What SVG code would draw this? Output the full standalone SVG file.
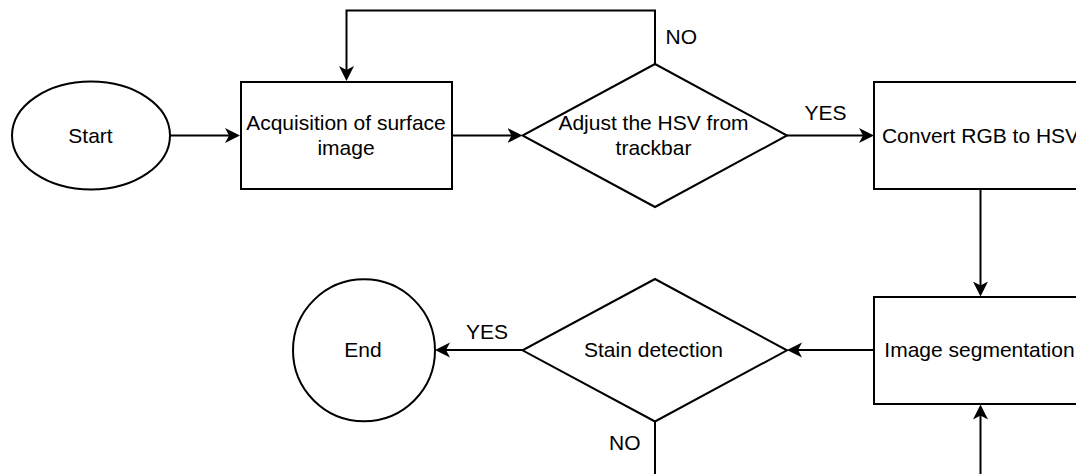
<svg xmlns="http://www.w3.org/2000/svg" width="1076" height="474" viewBox="0 0 1076 474">
<style>
.s{fill:#fff;stroke:#000;stroke-width:2}
.c{fill:none;stroke:#000;stroke-width:2}
text{font-family:"Liberation Sans",Arial,Helvetica,sans-serif;font-size:21px;fill:#000}
.m{text-anchor:middle}
</style>
<defs>
<marker id="arr" markerUnits="userSpaceOnUse" markerWidth="16" markerHeight="16" refX="11" refY="8" orient="auto">
<path d="M0,0.5 L15,8 L0,15.5 L4,8 Z" fill="#000"/>
</marker>
</defs>
<g id="connectors">
<path class="c" d="M170,135.5 H236" marker-end="url(#arr)"/>
<path class="c" d="M452,135.5 H518.5" marker-end="url(#arr)"/>
<path class="c" d="M655,64 V10.5 H346.5 V77" marker-end="url(#arr)"/>
<path class="c" d="M787,135.5 H870" marker-end="url(#arr)"/>
<path class="c" d="M980.5,189 V292.5" marker-end="url(#arr)"/>
<path class="c" d="M980.5,474 V408.5" marker-end="url(#arr)"/>
<path class="c" d="M874,350 H791" marker-end="url(#arr)"/>
<path class="c" d="M522.5,350 H439" marker-end="url(#arr)"/>
<path class="c" d="M655,421.5 V474"/>
<text x="665.5" y="43.5">NO</text>
<text x="804.5" y="120">YES</text>
<text x="466" y="338.5">YES</text>
<text x="609" y="449.5">NO</text>
</g>
<g id="start">
<ellipse class="s" cx="91" cy="135.5" rx="79" ry="54"/>
<text class="m" x="90.5" y="142.5">Start</text>
</g>
<g id="acquisition">
<rect class="s" x="241" y="82" width="211" height="107"/>
<text class="m" x="346" y="129.5">Acquisition of surface</text>
<text class="m" x="346" y="155">image</text>
</g>
<g id="adjust">
<polygon class="s" points="655,64 787,135.5 655,207 522.5,135.5"/>
<text class="m" x="653.5" y="129.5">Adjust the HSV from</text>
<text class="m" x="653.5" y="155">trackbar</text>
</g>
<g id="convert">
<rect class="s" x="874" y="82" width="212" height="107"/>
<text class="m" x="980.5" y="142.5">Convert RGB to HSV</text>
</g>
<g id="segmentation">
<rect class="s" x="874" y="297" width="212" height="107"/>
<text class="m" x="979.5" y="357">Image segmentation</text>
</g>
<g id="stain">
<polygon class="s" points="655,279 787,350.3 655,421.5 522.5,350.3"/>
<text class="m" x="653.5" y="357">Stain detection</text>
</g>
<g id="end">
<circle class="s" cx="364" cy="350.3" r="71"/>
<text class="m" x="363" y="357">End</text>
</g>
</svg>
